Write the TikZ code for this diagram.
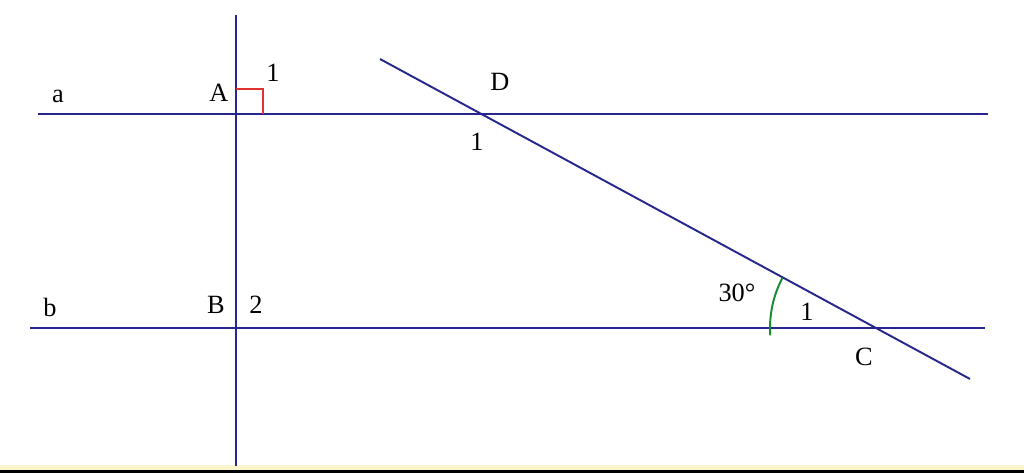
\documentclass[tikz,border=0pt]{standalone}
\usepackage{fontspec}
\setmainfont{Liberation Serif}
\definecolor{ln}{RGB}{38,38,140}
\definecolor{rd}{RGB}{225,50,50}
\definecolor{gr}{RGB}{20,140,50}
\definecolor{strip}{RGB}{250,245,205}
\begin{document}
\begin{tikzpicture}[x=0.02cm,y=-0.02cm,
  lineS/.style={draw=ln,line width=1.1pt},
  lbl/.style={font=\fontsize{15}{17}\selectfont,inner sep=0pt}]
\useasboundingbox (0,0) rectangle (1024,473);
\fill[strip] (0,465) rectangle (1024,470);
\fill[black] (0,470) rectangle (1024,473);
% points
\coordinate (Vt) at (236,15);
\coordinate (Vb) at (236,466);
\coordinate (aL) at (38,114);
\coordinate (aR) at (988,114);
\coordinate (bL) at (30,328);
\coordinate (bR) at (985,328);
\coordinate (Tt) at (380,59);
\coordinate (Tb) at (970,379);
\coordinate (A) at (236,114);
\coordinate (B) at (236,328);
\coordinate (D) at (483,114);
\coordinate (C) at (877,328);
% lines
\draw[lineS] (Vt) -- (Vb);
\draw[lineS] (aL) -- (aR);
\draw[lineS] (bL) -- (bR);
\draw[lineS] (Tt) -- (Tb);
% right angle mark
\coordinate (r1) at (236,89);
\coordinate (r2) at (263,89);
\coordinate (r3) at (263,114);
\draw[rd,line width=1.1pt] (r1) -- (r2) -- (r3);
% angle arc at C
\draw[gr,line width=1.1pt] (C) ++(176:107) arc[start angle=176,end angle=208,radius=107];
% labels
\node[lbl] (la) at (58,96) {a};
\node[lbl] (lA) at (219,93) {A};
\node[lbl] (l1a) at (273,73) {1};
\node[lbl] (lD) at (500,82) {D};
\node[lbl] (l1d) at (477,142) {1};
\node[lbl] (lb) at (50,307) {b};
\node[lbl] (lB) at (216,305) {B};
\node[lbl] (l2) at (256,305) {2};
\node[lbl] (l30) at (737,293) {30°};
\node[lbl] (l1c) at (807,312) {1};
\node[lbl] (lC) at (864,357) {C};
\end{tikzpicture}
\end{document}
